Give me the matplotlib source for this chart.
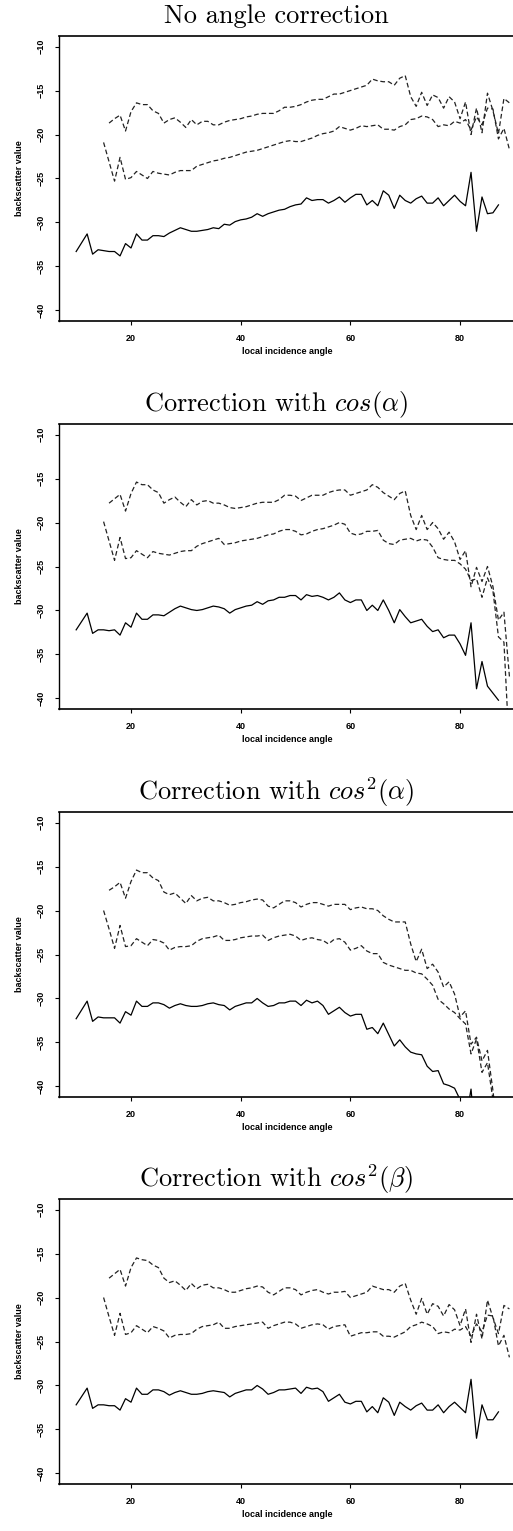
import matplotlib
matplotlib.use("Agg")
import matplotlib.pyplot as plt

plt.rcParams['mathtext.fontset'] = 'cm'

# incidence angles of each series
angle_solid = [10] + list(range(12, 88))
angle_upper = list(range(16, 90))
angle_mid = list(range(15, 90))

# No angle correction
p1_solid = [-33.3, -31.3, -33.6, -33.1, -33.2, -33.3, -33.3, -33.8, -32.4, -32.9,
            -31.3, -32.0, -32.0, -31.5, -31.5, -31.6, -31.2, -30.9, -30.6, -30.8,
            -31.0, -31.0, -30.9, -30.8, -30.6, -30.7, -30.2, -30.3, -29.9, -29.7,
            -29.6, -29.4, -29.0, -29.3, -29.0, -28.8, -28.6, -28.5, -28.2, -28.0,
            -27.9, -27.2, -27.5, -27.4, -27.4, -27.8, -27.5, -27.1, -27.7, -27.2,
            -26.8, -26.8, -28.0, -27.5, -28.1, -26.4, -26.9, -28.4, -26.9, -27.5,
            -27.8, -27.3, -27.0, -27.8, -27.8, -27.2, -28.1, -27.5, -26.9, -27.6,
            -28.1, -24.3, -31.0, -27.1, -29.0, -28.9, -28.0]
p1_upper = [-18.7, -18.2, -17.8, -19.6, -17.4, -16.4, -16.6, -16.6, -17.3, -17.6,
            -18.7, -18.3, -18.1, -18.6, -19.2, -18.3, -18.9, -18.5, -18.5, -18.9,
            -18.9, -18.6, -18.4, -18.3, -18.2, -18.0, -17.9, -17.7, -17.6, -17.6,
            -17.6, -17.3, -16.9, -16.9, -16.8, -16.6, -16.3, -16.1, -16.0, -16.0,
            -15.7, -15.4, -15.4, -15.2, -15.0, -14.8, -14.6, -14.4, -13.7, -13.9,
            -14.0, -14.0, -14.4, -13.6, -13.3, -15.7, -16.8, -15.2, -16.7, -15.5,
            -15.8, -17.0, -15.7, -16.3, -18.2, -16.3, -20.0, -17.0, -19.8, -15.3,
            -17.3, -19.9, -15.9, -16.4]
p1_mid = [-20.9, -23.1, -25.3, -22.6, -25.1, -24.9, -24.2, -24.6, -25.0, -24.2,
          -24.4, -24.5, -24.6, -24.3, -24.1, -24.1, -24.1, -23.6, -23.4, -23.2,
          -23.0, -22.9, -22.7, -22.6, -22.4, -22.2, -22.0, -21.9, -21.8, -21.6,
          -21.4, -21.2, -21.0, -20.8, -20.7, -20.8, -20.8, -20.6, -20.4, -20.1,
          -19.9, -19.8, -19.6, -19.1, -19.3, -19.5, -19.3, -19.0, -19.1, -19.0,
          -18.9, -19.4, -19.4, -19.5, -19.1, -18.9, -18.3, -18.2, -17.9, -18.0,
          -18.3, -19.1, -18.9, -19.0, -18.5, -18.7, -18.3, -19.5, -18.0, -18.9,
          -17.0, -17.1, -20.5, -19.3, -21.7]

# cos(alpha)
p2_solid = [-32.2, -30.3, -32.6, -32.2, -32.2, -32.3, -32.2, -32.8, -31.4, -31.9,
            -30.3, -31.0, -31.0, -30.5, -30.5, -30.6, -30.2, -29.8, -29.5, -29.7,
            -29.9, -30.0, -29.9, -29.7, -29.5, -29.6, -29.8, -30.3, -29.9, -29.7,
            -29.5, -29.4, -29.0, -29.3, -28.9, -28.8, -28.5, -28.5, -28.3, -28.3,
            -28.8, -28.2, -28.4, -28.3, -28.5, -28.8, -28.5, -28.0, -28.8, -29.1,
            -28.8, -28.8, -30.0, -29.4, -30.0, -28.8, -30.0, -31.4, -29.9, -30.7,
            -31.4, -31.2, -31.0, -31.8, -32.4, -32.2, -33.1, -32.8, -32.8, -33.8,
            -35.1, -31.4, -38.9, -35.8, -38.6, -39.4, -40.2]
p2_upper = [-17.8, -17.3, -16.8, -18.7, -16.7, -15.4, -15.7, -15.7, -16.3, -16.6,
            -17.8, -17.4, -17.1, -17.7, -18.2, -17.4, -18.0, -17.6, -17.5, -17.8,
            -17.8, -18.0, -18.3, -18.4, -18.3, -18.2, -18.0, -17.8, -17.7, -17.7,
            -17.7, -17.4, -16.9, -16.9, -17.0, -17.5, -17.2, -16.9, -16.9, -16.9,
            -16.6, -16.4, -16.3, -16.3, -16.9, -16.7, -16.5, -16.3, -15.7, -16.0,
            -16.6, -17.0, -17.4, -16.7, -16.4, -19.2, -20.8, -19.2, -20.8, -20.0,
            -20.7, -21.9, -21.1, -22.2, -24.2, -23.2, -27.3, -25.1, -26.7, -25.0,
            -27.3, -31.1, -30.2, -37.5]
p2_mid = [-19.9, -22.1, -24.3, -21.7, -24.1, -24.0, -23.2, -23.6, -24.0, -23.3,
          -23.5, -23.6, -23.7, -23.5, -23.3, -23.2, -23.2, -22.7, -22.4, -22.2,
          -22.0, -21.8, -22.5, -22.4, -22.3, -22.1, -22.0, -21.9, -21.8, -21.6,
          -21.4, -21.3, -21.0, -20.8, -20.8, -21.0, -21.4, -21.3, -21.0, -20.8,
          -20.7, -20.5, -20.3, -20.0, -20.2, -21.2, -21.4, -21.3, -21.0, -21.0,
          -20.9, -22.0, -22.4, -22.5, -22.0, -21.9, -21.8, -22.1, -21.9, -22.0,
          -22.8, -24.0, -24.2, -24.3, -24.3, -24.7, -25.3, -26.6, -26.4, -28.5,
          -26.3, -27.8, -33.0, -33.6, -46.0]

# cos^2(alpha)
p3_solid = [-32.3, -30.3, -32.6, -32.1, -32.2, -32.2, -32.2, -32.8, -31.5, -31.9,
            -30.3, -30.9, -30.9, -30.5, -30.5, -30.7, -31.1, -30.8, -30.6, -30.8,
            -30.9, -30.9, -30.8, -30.6, -30.5, -30.7, -30.8, -31.3, -30.9, -30.7,
            -30.5, -30.5, -30.0, -30.5, -30.9, -30.8, -30.5, -30.5, -30.3, -30.3,
            -30.8, -30.2, -30.5, -30.3, -30.8, -31.8, -31.4, -31.0, -31.6, -32.0,
            -31.8, -31.8, -33.5, -33.3, -34.0, -32.8, -34.1, -35.4, -34.7, -35.5,
            -36.1, -36.3, -36.4, -37.7, -38.3, -38.2, -39.7, -39.9, -40.2, -41.5,
            -44.0, -40.3, -47.5, -44.4, -46.5, -47.0, -46.0]
p3_upper = [-17.7, -17.3, -16.8, -18.6, -16.7, -15.4, -15.7, -15.7, -16.3, -16.6,
            -17.9, -18.2, -18.0, -18.6, -19.2, -18.3, -18.9, -18.6, -18.5, -18.9,
            -18.9, -19.1, -19.4, -19.3, -19.1, -19.0, -18.8, -18.7, -18.8, -19.5,
            -19.7, -19.3, -18.9, -18.9, -19.1, -19.6, -19.3, -19.1, -19.1, -19.3,
            -19.5, -19.3, -19.3, -19.3, -19.9, -19.7, -19.6, -19.8, -19.8, -20.0,
            -20.6, -21.0, -21.3, -21.3, -21.3, -23.8, -25.8, -24.4, -26.6, -26.1,
            -27.0, -28.7, -28.1, -29.5, -32.1, -31.4, -35.2, -34.4, -37.1, -35.9,
            -40.5, -46.0, -47.0, -48.0]
p3_mid = [-20.0, -22.1, -24.3, -21.7, -24.1, -24.0, -23.2, -23.6, -24.0, -23.3,
          -23.4, -23.7, -24.5, -24.2, -24.1, -24.1, -24.0, -23.5, -23.2, -23.1,
          -23.0, -22.8, -23.4, -23.4, -23.3, -23.1, -23.0, -22.9, -22.9, -22.8,
          -23.4, -23.1, -22.9, -22.8, -22.7, -22.9, -23.4, -23.2, -23.1, -23.3,
          -23.4, -23.8, -23.3, -23.2, -23.6, -24.5, -24.3, -24.0, -24.6, -24.9,
          -24.9, -25.9, -26.2, -26.4, -26.6, -26.8, -26.8, -27.1, -27.2, -27.8,
          -28.5, -30.1, -30.6, -31.2, -31.6, -32.3, -32.9, -36.3, -34.6, -38.4,
          -37.3, -41.5, -46.0, -47.0, -48.0]

# cos^2(beta)
p4_solid = [-32.2, -30.3, -32.6, -32.2, -32.2, -32.3, -32.3, -32.8, -31.5, -31.9,
            -30.3, -31.0, -31.0, -30.5, -30.5, -30.7, -31.1, -30.8, -30.6, -30.8,
            -31.0, -31.0, -30.9, -30.7, -30.6, -30.7, -30.8, -31.3, -30.9, -30.7,
            -30.5, -30.5, -30.0, -30.4, -31.0, -30.8, -30.5, -30.5, -30.4, -30.3,
            -30.9, -30.2, -30.4, -30.3, -30.7, -31.8, -31.4, -31.0, -31.9, -32.1,
            -31.8, -31.8, -33.0, -32.4, -33.1, -31.4, -31.9, -33.4, -31.9, -32.4,
            -32.8, -32.3, -32.0, -32.8, -32.8, -32.2, -33.1, -32.4, -31.9, -32.5,
            -33.1, -29.3, -36.0, -32.2, -33.9, -33.9, -33.0]
p4_upper = [-17.8, -17.3, -16.8, -18.7, -16.6, -15.5, -15.7, -15.8, -16.3, -16.6,
            -17.8, -18.3, -18.1, -18.6, -19.2, -18.4, -19.0, -18.6, -18.5, -18.9,
            -18.9, -19.1, -19.4, -19.4, -19.2, -19.0, -18.9, -18.7, -18.8, -19.4,
            -19.7, -19.3, -18.9, -18.9, -19.1, -19.7, -19.4, -19.2, -19.1, -19.4,
            -19.6, -19.4, -19.4, -19.3, -20.0, -19.8, -19.6, -19.4, -18.7, -18.9,
            -19.1, -19.1, -19.4, -18.7, -18.4, -20.3, -21.9, -20.1, -21.9, -20.7,
            -21.0, -22.1, -20.8, -21.4, -23.2, -21.3, -25.1, -21.9, -24.7, -20.3,
            -22.3, -24.1, -20.9, -21.3]
p4_mid = [-20.0, -22.2, -24.3, -21.8, -24.2, -24.0, -23.2, -23.6, -24.0, -23.3,
          -23.5, -23.8, -24.6, -24.3, -24.2, -24.2, -24.1, -23.6, -23.3, -23.2,
          -23.1, -22.8, -23.5, -23.5, -23.3, -23.2, -23.1, -23.0, -22.9, -22.8,
          -23.5, -23.2, -23.0, -22.8, -22.8, -23.0, -23.5, -23.3, -23.1, -23.0,
          -23.1, -23.6, -23.3, -23.2, -23.1, -24.4, -24.2, -24.0, -24.0, -23.9,
          -23.9, -24.4, -24.4, -24.5, -24.2, -23.9, -23.3, -23.1, -22.8, -23.0,
          -23.3, -24.1, -23.9, -24.0, -23.6, -23.7, -23.3, -24.4, -23.0, -23.9,
          -22.0, -22.1, -25.5, -24.3, -26.8]

titles = ["No angle correction",
          r"Correction with $cos(\alpha)$",
          r"Correction with $cos^2(\alpha)$",
          r"Correction with $cos^2(\beta)$"]
panels = [(p1_solid, p1_upper, p1_mid),
          (p2_solid, p2_upper, p2_mid),
          (p3_solid, p3_upper, p3_mid),
          (p4_solid, p4_upper, p4_mid)]

W, H = 513, 1531
fig = plt.figure(figsize=(W / 100, H / 100), dpi=100)

ax_left, ax_right = 59, 516
ax_tops = [36, 424, 812, 1199]
ax_h = 285
top_dashed = [True, True, True, False]
tick_font = dict(family="Liberation Sans", size=6.5, weight="bold")
dash = (0, (3.8, 2.2))

for i in range(4):
    solid, upper, mid = panels[i]
    top = ax_tops[i]
    ax = fig.add_axes([ax_left / W, 1 - (top + ax_h) / H,
                       (ax_right - ax_left) / W, ax_h / H])
    ax.plot(angle_solid, solid, color="black", lw=0.9)
    ax.plot(angle_upper, upper, color="#222222", lw=0.9, linestyle=dash)
    ax.plot(angle_mid, mid, color="#222222", lw=0.9, linestyle=dash)
    ax.set_xlim(6.87, 90.2)
    ax.set_ylim(-41.2, -8.8)
    ax.set_xticks([20, 40, 60, 80])
    ax.set_yticks([-10, -15, -20, -25, -30, -35, -40])
    ax.tick_params(direction="out", length=3, width=0.8, pad=6.5,
                   top=False, right=False)
    for lab in ax.get_xticklabels() + ax.get_yticklabels():
        lab.set_fontfamily(tick_font["family"])
        lab.set_fontsize(tick_font["size"])
        lab.set_fontweight(tick_font["weight"])
    for lab in ax.get_yticklabels():
        lab.set_rotation(90)
        lab.set_va("center")
    ax.spines["right"].set_visible(False)
    ax.spines["left"].set_linewidth(1.0)
    ax.spines["bottom"].set_linewidth(1.2)
    ax.spines["bottom"].set_linestyle((0, (3, 1)))
    ax.spines["top"].set_linewidth(1.2)
    if top_dashed[i]:
        ax.spines["top"].set_linestyle((0, (3, 1)))
    ax.text(0.5, -30.7 / ax_h, "local incidence angle", transform=ax.transAxes,
            ha="center", va="center", **tick_font)
    ax.text(-39.5 / (ax_right - ax_left), 0.5, "backscatter value",
            transform=ax.transAxes, ha="center", va="center", rotation=90,
            **tick_font)
    fig.text(276 / W, 1 - (top - 20) / H, titles[i], ha="center", va="center",
             family="cmr10", size=19)

fig.savefig("out.png", dpi=100)
